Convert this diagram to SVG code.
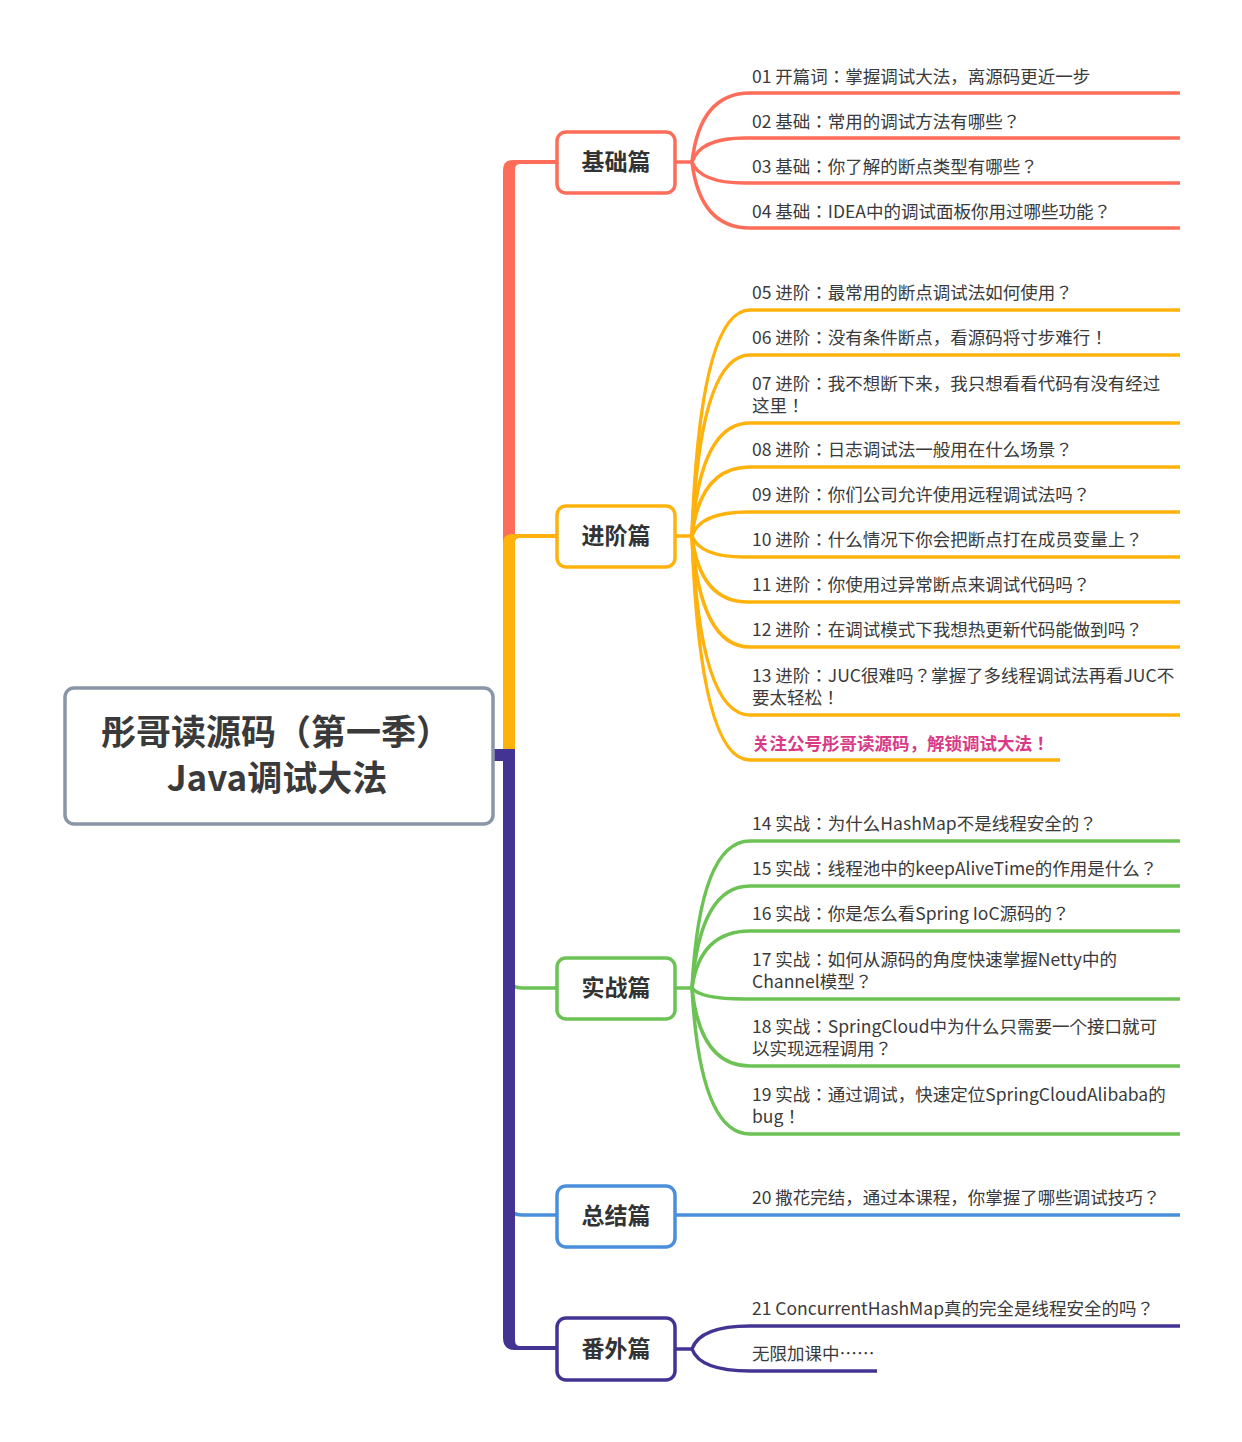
<svg xmlns="http://www.w3.org/2000/svg" width="1242" height="1442" viewBox="0 0 1242 1442">
<style>
.leaf{font-family:"Noto Sans CJK JP","Noto Sans",sans-serif;font-size:17.5px;fill:#3a3a3a}
.hl{font-family:"Noto Sans CJK JP","Noto Sans",sans-serif;font-size:17.5px;font-weight:bold;fill:#d83a87}
.lbl{font-family:"Noto Sans CJK SC","Noto Sans",sans-serif;font-size:23px;font-weight:bold;fill:#333;text-anchor:middle}
.root{font-family:"Noto Sans CJK TC","Noto Sans",sans-serif;font-size:35px;font-weight:bold;fill:#3a3a3a;text-anchor:middle}
.box{fill:#fff;stroke-width:3.5}
.c{fill:none;stroke-width:3.5}
.red{stroke:#fe6c5a}.org{stroke:#ffb20c}.grn{stroke:#6cc254}.blu{stroke:#4a8fdb}.pur{stroke:#433493}
</style>
<rect width="1242" height="1442" fill="#fff"/>
<g id="connectors">
  <path d="M503 752 V170 Q503 160 513 160 H557 V164 H520 Q515 164 515 170 V752 Z" fill="#fe6c5a"/>
  <path d="M503 752 V543 Q503 534 512 534 H557 V538 H520 Q515 538 515 543 V752 Z" fill="#ffb20c"/>
  <path class="c grn" d="M509 975 Q509 988 522 988 H557"/>
  <path class="c blu" d="M509 1203 Q509 1215 522 1215 H557"/>
  <path d="M503 749 V1338 Q503 1350 515 1350 H557 V1346 H520 Q515 1346 515 1340 V749 Z" fill="#433493"/>
  <rect x="493" y="749" width="16" height="12" fill="#433493"/>
  <g class="c red">
    <path d="M675 162 H692"/>
    <path d="M692 162 Q700 93 750 93 H1180"/>
    <path d="M692 162 Q700 138 745 138 H1180"/>
    <path d="M692 162 Q700 183 745 183 H1180"/>
    <path d="M692 162 Q700 228 750 228 H1180"/>
  </g>
  <g class="c org">
    <path d="M675 536 H692"/>
    <path d="M692 536 Q700 310 750 310 H1180"/>
    <path d="M692 536 Q700 355 750 355 H1180"/>
    <path d="M692 536 Q700 423 750 423 H1180"/>
    <path d="M692 536 Q700 467 750 467 H1180"/>
    <path d="M692 536 Q700 512 748 512 H1180"/>
    <path d="M692 536 Q700 557 745 557 H1180"/>
    <path d="M692 536 Q700 602 748 602 H1180"/>
    <path d="M692 536 Q700 647 750 647 H1180"/>
    <path d="M692 536 Q700 715 750 715 H1180"/>
    <path d="M692 536 Q700 760 750 760 H1060"/>
  </g>
  <g class="c grn">
    <path d="M675 988 H692"/>
    <path d="M692 988 Q700 841 750 841 H1180"/>
    <path d="M692 988 Q700 886 750 886 H1180"/>
    <path d="M692 988 Q700 931 750 931 H1180"/>
    <path d="M692 988 Q700 999 745 999 H1180"/>
    <path d="M692 988 Q700 1066 750 1066 H1180"/>
    <path d="M692 988 Q700 1134 750 1134 H1180"/>
  </g>
  <path class="c blu" d="M675 1215 H1180"/>
  <g class="c pur">
    <path d="M675 1349 H692"/>
    <path d="M692 1349 Q700 1326 750 1326 H1180"/>
    <path d="M692 1349 Q700 1371 750 1371 H877"/>
  </g>
</g>
<g id="root">
  <rect x="65" y="688" width="428" height="136" rx="9" fill="#fff" stroke="#8a95a8" stroke-width="3.5"/>
  <text class="root" x="276" y="745">彤哥读源码（第一季）</text>
  <text class="root" x="277" y="791">Java调试大法</text>
</g>
<g id="n-jichu">
  <rect class="box red" x="557" y="132" width="118" height="61" rx="9"/>
  <text class="lbl" x="616" y="170">基础篇</text>
</g>
<g id="n-jinjie">
  <rect class="box org" x="557" y="506" width="118" height="61" rx="9"/>
  <text class="lbl" x="616" y="544">进阶篇</text>
</g>
<g id="n-shizhan">
  <rect class="box grn" x="557" y="958" width="118" height="61" rx="9"/>
  <text class="lbl" x="616" y="996">实战篇</text>
</g>
<g id="n-zongjie">
  <rect class="box blu" x="557" y="1186" width="118" height="61" rx="9"/>
  <text class="lbl" x="616" y="1224">总结篇</text>
</g>
<g id="n-fanwai">
  <rect class="box pur" x="557" y="1318" width="118" height="62" rx="9"/>
  <text class="lbl" x="616" y="1357">番外篇</text>
</g>
<g id="leaves">
  <text class="leaf" x="752" y="83">01 开篇词：掌握调试大法，离源码更近一步</text>
  <text class="leaf" x="752" y="128">02 基础：常用的调试方法有哪些？</text>
  <text class="leaf" x="752" y="173">03 基础：你了解的断点类型有哪些？</text>
  <text class="leaf" x="752" y="218">04 基础：IDEA中的调试面板你用过哪些功能？</text>
  <text class="leaf" x="752" y="299">05 进阶：最常用的断点调试法如何使用？</text>
  <text class="leaf" x="752" y="344">06 进阶：没有条件断点，看源码将寸步难行！</text>
  <text class="leaf" x="752" y="390">07 进阶：我不想断下来，我只想看看代码有没有经过</text>
  <text class="leaf" x="752" y="412">这里！</text>
  <text class="leaf" x="752" y="456">08 进阶：日志调试法一般用在什么场景？</text>
  <text class="leaf" x="752" y="501">09 进阶：你们公司允许使用远程调试法吗？</text>
  <text class="leaf" x="752" y="546">10 进阶：什么情况下你会把断点打在成员变量上？</text>
  <text class="leaf" x="752" y="591">11 进阶：你使用过异常断点来调试代码吗？</text>
  <text class="leaf" x="752" y="636">12 进阶：在调试模式下我想热更新代码能做到吗？</text>
  <text class="leaf" x="752" y="682">13 进阶：JUC很难吗？掌握了多线程调试法再看JUC不</text>
  <text class="leaf" x="752" y="704">要太轻松！</text>
  <text class="hl" x="752" y="750">关注公号彤哥读源码，解锁调试大法！</text>
  <text class="leaf" x="752" y="830">14 实战：为什么HashMap不是线程安全的？</text>
  <text class="leaf" x="752" y="875">15 实战：线程池中的keepAliveTime的作用是什么？</text>
  <text class="leaf" x="752" y="920">16 实战：你是怎么看Spring IoC源码的？</text>
  <text class="leaf" x="752" y="966">17 实战：如何从源码的角度快速掌握Netty中的</text>
  <text class="leaf" x="752" y="988">Channel模型？</text>
  <text class="leaf" x="752" y="1033">18 实战：SpringCloud中为什么只需要一个接口就可</text>
  <text class="leaf" x="752" y="1055">以实现远程调用？</text>
  <text class="leaf" x="752" y="1101">19 实战：通过调试，快速定位SpringCloudAlibaba的</text>
  <text class="leaf" x="752" y="1123">bug！</text>
  <text class="leaf" x="752" y="1204">20 撒花完结，通过本课程，你掌握了哪些调试技巧？</text>
  <text class="leaf" x="752" y="1315">21 ConcurrentHashMap真的完全是线程安全的吗？</text>
  <text class="leaf" x="752" y="1360">无限加课中……</text>
</g>
</svg>
